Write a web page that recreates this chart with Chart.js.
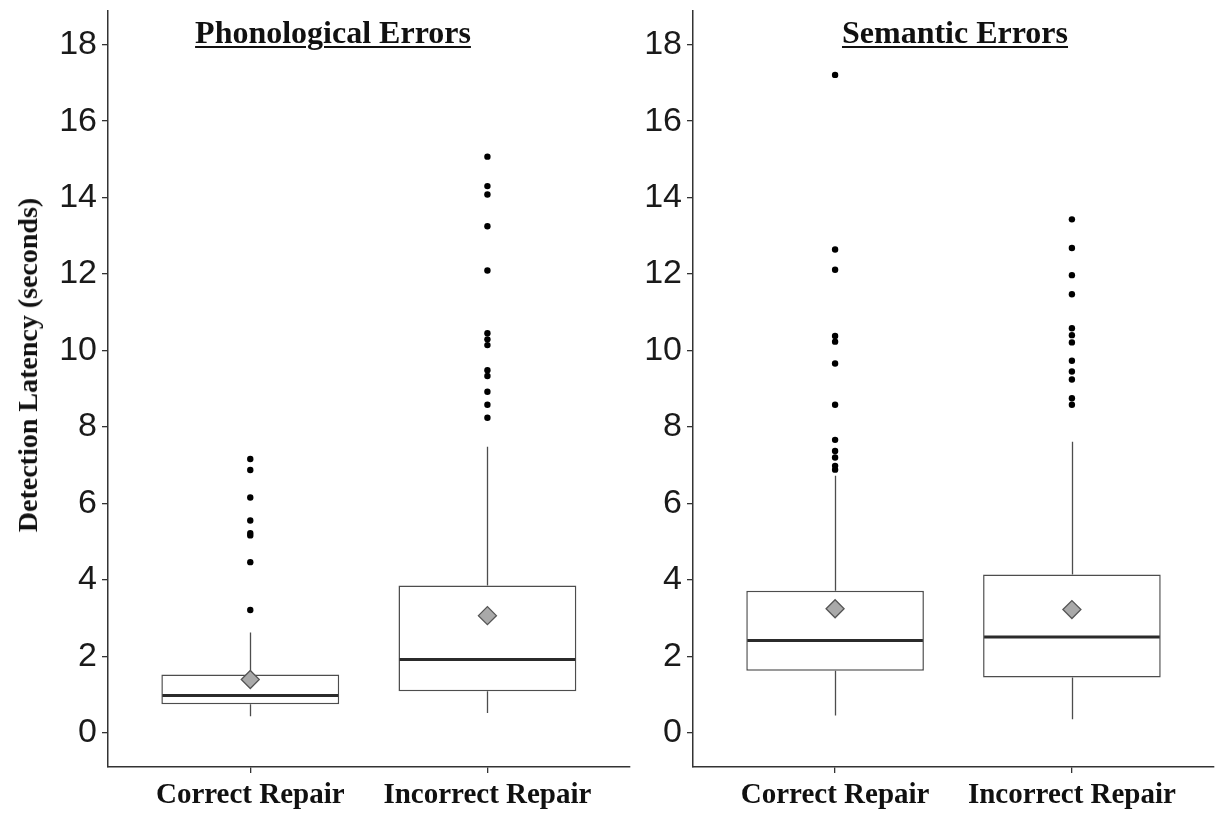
<!DOCTYPE html>
<html><head><meta charset="utf-8">
<script src="https://cdn.jsdelivr.net/npm/chart.js@4.4.0/dist/chart.umd.min.js"></script>
<style>
html,body{margin:0;padding:0;background:#fff;}
#wrap{position:relative;width:1225px;height:815px;overflow:hidden;background:#fff;}
canvas{position:absolute;top:0;}
.ptitle{position:absolute;font-family:"Liberation Serif","Times New Roman",serif;font-weight:bold;font-size:32px;line-height:32px;color:#111;white-space:nowrap;text-decoration:underline;text-decoration-thickness:2px;text-underline-offset:3px;transform:translateX(-50%);}
.ylab{position:absolute;left:28px;top:365px;font-family:"Liberation Serif","Times New Roman",serif;font-weight:bold;font-size:28px;line-height:30px;color:#111;white-space:nowrap;transform:translate(-50%,-50%) rotate(-90deg);}
</style></head>
<body><div id="wrap">
<canvas id="c1" width="640" height="815" style="left:0px"></canvas>
<canvas id="c2" width="613" height="815" style="left:612px"></canvas>
<div class="ptitle" style="left:333px;top:16px">Phonological Errors</div>
<div class="ptitle" style="left:955px;top:16px">Semantic Errors</div>
<div class="ylab">Detection Latency (seconds)</div>
</div>
<script>
const categories = ['Correct Repair', 'Incorrect Repair'];
const yTicks = [0, 2, 4, 6, 8, 10, 12, 14, 16, 18];

const phonQ1 = [0.74, 1.08];
const phonMedian = [0.97, 1.91];
const phonQ3 = [1.52, 3.85];
const phonWhiskerLow = [0.43, 0.51];
const phonWhiskerHigh = [2.62, 7.48];
const phonMean = [1.39, 3.06];
const phonOutliersCorrect = [7.16, 6.87, 6.15, 5.55, 5.22, 5.16, 4.46, 3.21];
const phonOutliersIncorrect = [15.07, 14.30, 14.08, 13.25, 12.09, 10.45, 10.29, 10.14, 9.48, 9.33, 8.92, 8.58, 8.24];

const semQ1 = [1.62, 1.44];
const semMedian = [2.41, 2.50];
const semQ3 = [3.71, 4.14];
const semWhiskerLow = [0.45, 0.35];
const semWhiskerHigh = [6.72, 7.61];
const semMean = [3.24, 3.22];
const semOutliersCorrect = [17.21, 12.64, 12.11, 10.38, 10.23, 9.66, 8.58, 7.66, 7.37, 7.20, 6.98, 6.88];
const semOutliersIncorrect = [13.43, 12.68, 11.97, 11.47, 10.58, 10.40, 10.21, 9.73, 9.45, 9.24, 8.75, 8.58];

const boxExtras = {
  id: 'boxExtras',
  beforeDatasetsDraw(chart, args, opts) {
    const xs = chart.scales.x, ys = chart.scales.y, ctx = chart.ctx;
    ctx.save();
    ctx.strokeStyle = '#4d4d4d';
    ctx.lineWidth = 1.3;
    categories.forEach((c, i) => {
      const x = Math.round(xs.getPixelForValue(i + 1)) + 0.5;
      ctx.beginPath();
      ctx.moveTo(x, ys.getPixelForValue(opts.lo[i]));
      ctx.lineTo(x, ys.getPixelForValue(opts.q1[i]));
      ctx.moveTo(x, ys.getPixelForValue(opts.q3[i]));
      ctx.lineTo(x, ys.getPixelForValue(opts.hi[i]));
      ctx.stroke();
    });
    ctx.restore();
  },
  afterDatasetDraw(chart, args, opts) {
    if (args.meta.type !== 'bar') return;
    const ys = chart.scales.y, ctx = chart.ctx;
    ctx.save();
    ctx.strokeStyle = '#2b2b2b';
    ctx.lineWidth = 3;
    args.meta.data.forEach((el, i) => {
      const p = el.getProps(['x', 'width'], true);
      const y = ys.getPixelForValue(opts.med[i]);
      ctx.beginPath();
      ctx.moveTo(p.x - p.width / 2 + 1, y);
      ctx.lineTo(p.x + p.width / 2 - 1, y);
      ctx.stroke();
    });
    ctx.restore();
  }
};

function makeChart(id, q1, med, q3, lo, hi, mean, outC, outI, yWidth, padRight) {
  const outliers = outC.map(v => ({x: 1, y: v})).concat(outI.map(v => ({x: 2, y: v})));
  return new Chart(document.getElementById(id), {
    type: 'scatter',
    data: {
      datasets: [
        {
          type: 'bar', label: 'box',
          data: categories.map((c, i) => ({x: i + 1, y: [q1[i], q3[i]]})),
          backgroundColor: '#ffffff', borderColor: '#4d4d4d', borderWidth: 1.5,
          borderSkipped: false, categoryPercentage: 1, barPercentage: 0.75, order: 3
        },
        {
          type: 'scatter', label: 'outliers', data: outliers,
          pointRadius: 3.2, pointBackgroundColor: '#000', pointBorderWidth: 0, order: 2
        },
        {
          type: 'scatter', label: 'mean',
          data: mean.map((v, i) => ({x: i + 1, y: v})),
          pointStyle: 'rectRot', pointRadius: 9, pointBackgroundColor: '#a9a9a9',
          pointBorderColor: '#555', pointBorderWidth: 1.3, order: 1
        }
      ]
    },
    options: {
      responsive: false,
      animation: false,
      events: [],
      layout: {padding: {top: 9, right: padRight, left: 0, bottom: 0}},
      plugins: {
        legend: {display: false},
        tooltip: {enabled: false},
        boxExtras: {q1: q1, med: med, q3: q3, lo: lo, hi: hi}
      },
      scales: {
        x: {
          type: 'linear', min: 0.4, max: 2.6, offset: false,
          afterBuildTicks: s => { s.ticks = categories.map((c, i) => ({value: i + 1})); },
          afterFit: s => { s.height = 48; s.paddingLeft = 0; s.paddingRight = 0; },
          ticks: {
            callback: v => categories[v - 1] || '',
            autoSkip: false, maxRotation: 0, padding: 5, color: '#111',
            font: {family: 'Liberation Serif', weight: 'bold', size: 29}
          },
          grid: {display: true, offset: false, drawOnChartArea: false, drawTicks: true, tickLength: 6, color: '#333', lineWidth: 1.3},
          border: {display: true, color: '#333', width: 1.5}
        },
        y: {
          type: 'linear', min: -0.9, max: 18.9,
          afterBuildTicks: s => { s.ticks = yTicks.map(v => ({value: v})); },
          afterFit: s => { s.width = yWidth; s.paddingTop = 0; s.paddingBottom = 0; },
          ticks: {
            callback: v => String(v), padding: 5, color: '#1a1a1a',
            font: {family: 'Liberation Sans', size: 34}
          },
          grid: {display: true, drawOnChartArea: false, drawTicks: true, tickLength: 6, color: '#333', lineWidth: 1.3},
          border: {display: true, color: '#333', width: 1.5}
        }
      }
    },
    plugins: [boxExtras]
  });
}

makeChart('c1', phonQ1, phonMedian, phonQ3, phonWhiskerLow, phonWhiskerHigh, phonMean,
  phonOutliersCorrect, phonOutliersIncorrect, 108, 6);
makeChart('c2', semQ1, semMedian, semQ3, semWhiskerLow, semWhiskerHigh, semMean,
  semOutliersCorrect, semOutliersIncorrect, 81, 11);
</script>
</body></html>
